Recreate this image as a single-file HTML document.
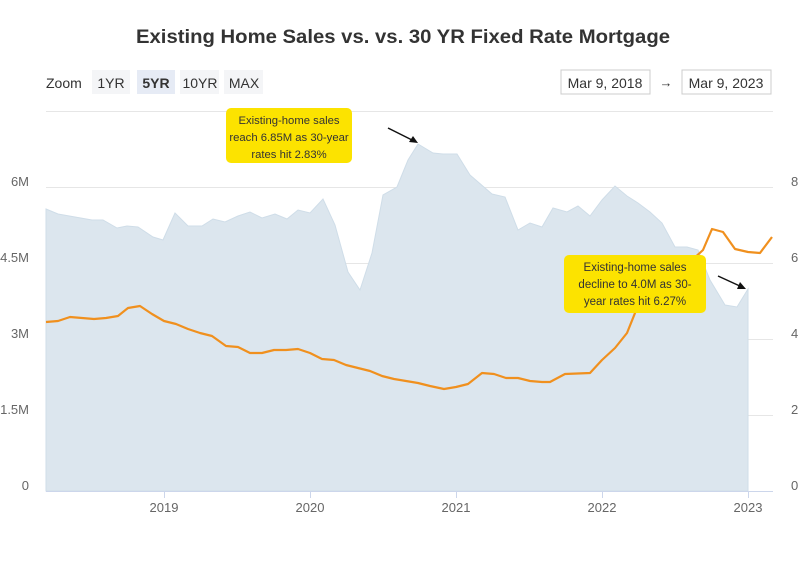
<!DOCTYPE html>
<html><head><meta charset="utf-8"><style>
body{margin:0;background:#fff;width:800px;height:568px;overflow:hidden;font-family:"Liberation Sans",sans-serif}
</style></head><body>
<svg width="800" height="568" viewBox="0 0 800 568" xmlns="http://www.w3.org/2000/svg" font-family="Liberation Sans, sans-serif">
<text x="403" y="43" text-anchor="middle" font-size="19.5" font-weight="bold" fill="#333" textLength="534" lengthAdjust="spacingAndGlyphs">Existing Home Sales vs. vs. 30 YR Fixed Rate Mortgage</text>
<text x="46" y="88" font-size="14" fill="#333">Zoom</text>
<rect x="92" y="70" width="38" height="24" fill="#f4f5f7"/><text x="111" y="88" text-anchor="middle" font-size="14" fill="#333">1YR</text>
<rect x="137" y="70" width="38" height="24" fill="#e6ebf5"/><text x="156" y="88" text-anchor="middle" font-size="14" font-weight="bold" fill="#333">5YR</text>
<rect x="180" y="70" width="39" height="24" fill="#f4f5f7"/><text x="200" y="88" text-anchor="middle" font-size="14" fill="#333">10YR</text>
<rect x="224" y="70" width="39" height="24" fill="#f4f5f7"/><text x="244" y="88" text-anchor="middle" font-size="14" fill="#333">MAX</text>
<rect x="561" y="70" width="89" height="24" fill="#fff" stroke="#ccc"/><text x="605" y="88" text-anchor="middle" font-size="14" fill="#333">Mar 9, 2018</text>
<text x="666" y="87" text-anchor="middle" font-size="13" fill="#333">→</text>
<rect x="682" y="70" width="89" height="24" fill="#fff" stroke="#ccc"/><text x="726" y="88" text-anchor="middle" font-size="14" fill="#333">Mar 9, 2023</text>
<g stroke="#e6e6e6" stroke-width="1">
<line x1="46" y1="111.5" x2="773" y2="111.5"/><line x1="46" y1="187.5" x2="773" y2="187.5"/><line x1="46" y1="263.5" x2="773" y2="263.5"/><line x1="46" y1="339.5" x2="773" y2="339.5"/><line x1="46" y1="415.5" x2="773" y2="415.5"/>
</g>
<g font-size="13" fill="#666" text-anchor="end">
<text x="29" y="186">6M</text><text x="29" y="262">4.5M</text><text x="29" y="338">3M</text><text x="29" y="414">1.5M</text><text x="29" y="490">0</text>
</g>
<g font-size="13" fill="#666">
<text x="791" y="186">8</text><text x="791" y="262">6</text><text x="791" y="338">4</text><text x="791" y="414">2</text><text x="791" y="490">0</text>
</g>
<path d="M46,209 L58,214 L92,220 L103,220 L117,228 L127,226 L138,227 L153,237 L163,240 L175,213 L188,226 L202,226 L213,219 L225,222 L238,216 L250,212 L262,218 L275,214 L287,219 L298,210 L310,213 L323,199 L335,225 L348,272 L360,290 L372,253 L383,195 L397,187 L408,160 L418,144 L433,153 L443,154 L457,154 L470,175 L492,194 L505,197 L518,230 L530,223 L542,227 L553,208 L567,212 L578,206 L590,216 L602,200 L615,186 L627,196 L638,203 L650,212 L662,223 L675,247 L687,247 L698,250 L710,280 L725,305 L737,307 L748,289 L748,491 L46,491 Z" fill="#dce6ee" stroke="#cfdde8" stroke-width="1"/>
<line x1="46" y1="491.5" x2="773" y2="491.5" stroke="#ccd6eb"/>
<g stroke="#ccd6eb"><line x1="164.5" y1="491" x2="164.5" y2="498"/><line x1="310.5" y1="491" x2="310.5" y2="498"/><line x1="456.5" y1="491" x2="456.5" y2="498"/><line x1="602.5" y1="491" x2="602.5" y2="498"/><line x1="748.5" y1="491" x2="748.5" y2="498"/></g>
<g font-size="13" fill="#666" text-anchor="middle">
<text x="164" y="512">2019</text><text x="310" y="512">2020</text><text x="456" y="512">2021</text><text x="602" y="512">2022</text><text x="748" y="512">2023</text>
</g>
<polyline fill="none" stroke="#f0901e" stroke-width="2.2" stroke-linejoin="round" points="46,322 58,321 70,317 82,318 94,319 106,318 118,316 128,308 140,306 152,314 164,321 176,324 188,329 200,333 212,336 226,346 238,347 250,353 262,353 274,350 286,350 298,349 310,353 322,359 334,360 346,365 358,368 370,371 382,376 394,379 406,381 418,383 430,386 444,389 456,387 468,384 482,373 494,374 506,378 518,378 530,381 542,382 550,382 565,374 590,373 602,360 615,348 627,333 635,313 650,285 670,262 690,262 703,250 712,229 723,232 735,249 748,252 760,253 772,237"/>
<rect x="226" y="108" width="126" height="55" rx="5" fill="#fce300"/>
<g font-size="11.3" fill="#333" text-anchor="middle">
<text x="289" y="124">Existing-home sales</text><text x="289" y="141">reach 6.85M as 30-year</text><text x="289" y="158">rates hit 2.83%</text>
</g>
<rect x="564" y="255" width="142" height="58" rx="5" fill="#fce300"/>
<g font-size="11.5" fill="#333" text-anchor="middle">
<text x="635" y="271">Existing-home sales</text><text x="635" y="288">decline to 4.0M as 30-</text><text x="635" y="305">year rates hit 6.27%</text>
</g>
<g stroke="#111" stroke-width="1.5" fill="#111">
<line x1="388" y1="128" x2="414" y2="141"/><polygon points="418,143 409,142 413,136" stroke="none"/>
<line x1="718" y1="276" x2="742" y2="287"/><polygon points="746,289 737,289 740,282" stroke="none"/>
</g>
</svg>
</body></html>
